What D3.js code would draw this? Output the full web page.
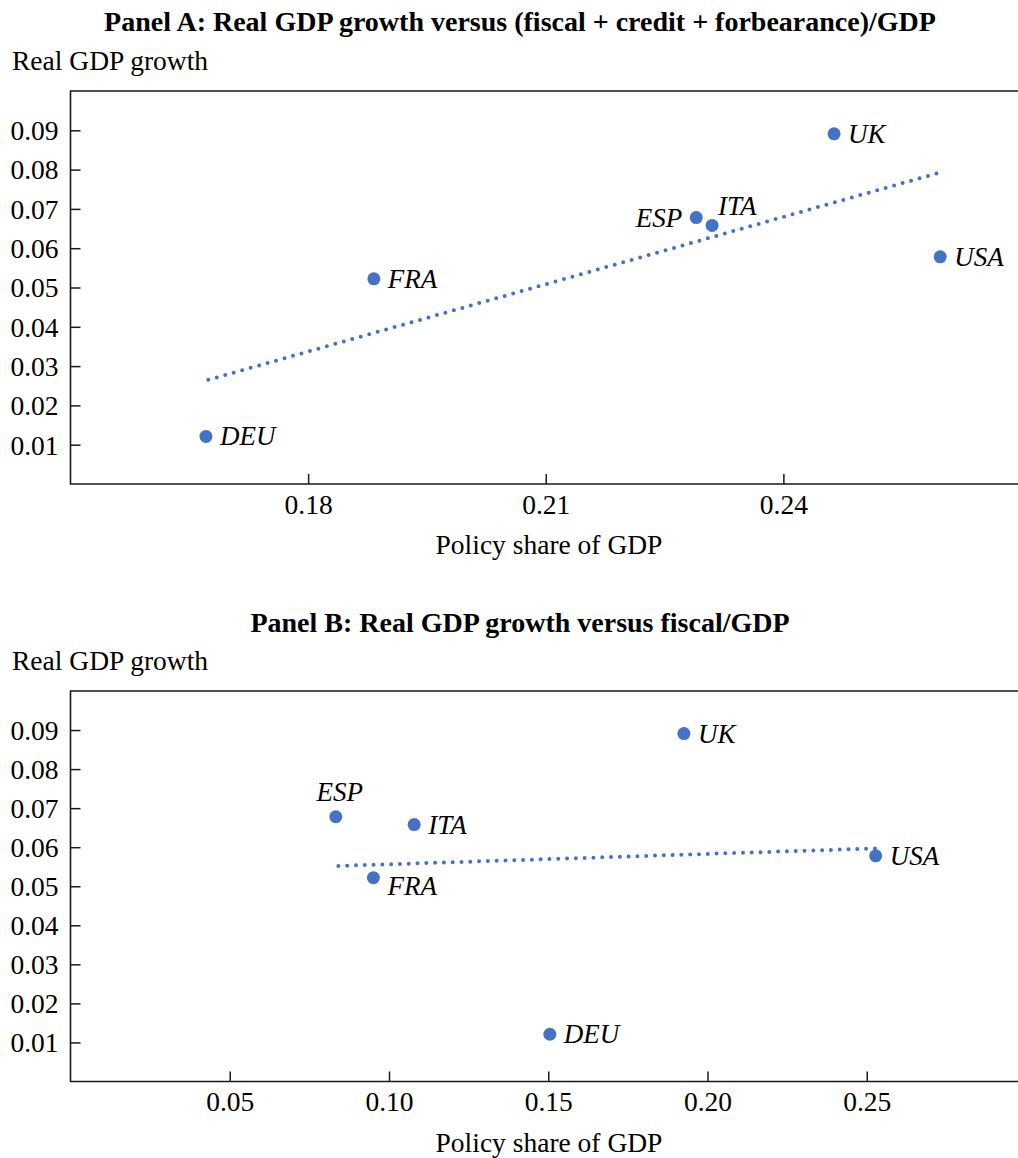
<!DOCTYPE html>
<html>
<head>
<meta charset="utf-8">
<script src="https://cdn.jsdelivr.net/npm/d3@7"></script>
<style>
  html, body { margin: 0; padding: 0; background: #fff; }
  svg { display: block; font-family: "Liberation Serif", "Times New Roman", serif; }
</style>
</head>
<body>
<script>
// Countries and real GDP growth (shared by both panels)
const countries = ["DEU", "FRA", "ESP", "ITA", "UK", "USA"];
const gdpGrowth = [0.0121, 0.0522, 0.0678, 0.0658, 0.0891, 0.0578];

// Policy support as a share of GDP
const policyShareTotal = [0.1671, 0.1883, 0.2290, 0.2310, 0.2464, 0.2598];   // fiscal + credit + forbearance
const policyShareFiscal = [0.1505, 0.0951, 0.0833, 0.1079, 0.1926, 0.2528];  // fiscal only

// Fitted trend lines (start and end)
const fitTotalX = [0.1674, 0.2595];
const fitTotalY = [0.0265, 0.0791];
const fitFiscalX = [0.0841, 0.2533];
const fitFiscalY = [0.0552, 0.0597];

// Tick values
const yTicks = [0.01, 0.02, 0.03, 0.04, 0.05, 0.06, 0.07, 0.08, 0.09];
const xTicksA = [0.18, 0.21, 0.24];
const xTicksB = [0.05, 0.10, 0.15, 0.20, 0.25];

const W = 1018, H = 1158;
const BLUE = "#4472c4";
const INK = "#1a1a1a";
const FS = 27.5;

const svg = d3.select("body").append("svg").attr("width", W).attr("height", H);

// Label placement per panel: [dx, dy, anchor]
const defaultPlace = [14, 9, "start"];
const placeA = { ESP: [-14, 9, "end"], ITA: [6, -10, "start"] };
const placeB = { ESP: [4, -16, "middle"], FRA: [14, 17, "start"] };

function panel(cfg) {
  const g = svg.append("g");
  const x = d3.scaleLinear().domain(cfg.xDomain).range(cfg.xRange);
  const y = d3.scaleLinear().domain([0, 0.10]).range([cfg.bottom, cfg.top]);

  // Title
  g.append("text")
    .attr("x", 520).attr("y", cfg.titleY)
    .attr("text-anchor", "middle")
    .attr("font-weight", "bold")
    .attr("font-size", 28)
    .text(cfg.title);

  // Y-axis title
  g.append("text")
    .attr("x", 12).attr("y", cfg.yTitleY)
    .attr("font-size", FS)
    .text("Real GDP growth");

  // X-axis title
  g.append("text")
    .attr("x", 549).attr("y", cfg.bottom + 70)
    .attr("text-anchor", "middle")
    .attr("font-size", FS)
    .text("Policy share of GDP");

  // Axes with inward ticks
  const yAxis = d3.axisLeft(y).tickValues(yTicks).tickSize(-10).tickPadding(12)
    .tickFormat(d3.format(".2f"));
  const xAxis = d3.axisBottom(x).tickValues(cfg.xTicks).tickSize(-10)
    .tickFormat(d3.format(".2f"));

  const gy = g.append("g").attr("transform", `translate(${cfg.xRange[0]},0)`).call(yAxis);
  const gx = g.append("g").attr("transform", `translate(0,${cfg.bottom})`).call(xAxis);
  [gx, gy].forEach(a => {
    a.select(".domain").remove();
    a.selectAll(".tick line").attr("stroke", INK).attr("stroke-width", 1.5);
    a.selectAll(".tick text").attr("fill", "#000").attr("font-size", FS)
      .attr("font-family", "Liberation Serif, serif");
  });
  gy.selectAll(".tick text").attr("dy", "0.34em");
  gx.selectAll(".tick text").attr("y", 29.5).attr("dy", 0);

  // Frame: left, bottom, top
  const x0 = cfg.xRange[0], x1 = cfg.xRange[1];
  g.append("path")
    .attr("d", `M${x1},${cfg.top}H${x0}V${cfg.bottom}H${x1}`)
    .attr("fill", "none").attr("stroke", INK).attr("stroke-width", 1.6);

  // Dotted trend line
  const fit = cfg.fitX.map((v, i) => [v, cfg.fitY[i]]);
  g.append("path")
    .datum(fit)
    .attr("d", d3.line().x(d => x(d[0])).y(d => y(d[1])))
    .attr("fill", "none")
    .attr("stroke", BLUE)
    .attr("stroke-width", 4)
    .attr("stroke-linecap", "round")
    .attr("stroke-dasharray", "0 8.8");

  // Points and labels
  const pts = countries.map((c, i) => ({ c, xv: cfg.xs[i], yv: gdpGrowth[i] }));
  g.selectAll("circle.pt").data(pts).join("circle")
    .attr("class", "pt")
    .attr("cx", d => x(d.xv)).attr("cy", d => y(d.yv))
    .attr("r", 6.5).attr("fill", BLUE);

  g.selectAll("text.lbl").data(pts).join("text")
    .attr("class", "lbl")
    .attr("x", d => x(d.xv) + (cfg.place[d.c] || defaultPlace)[0])
    .attr("y", d => y(d.yv) + (cfg.place[d.c] || defaultPlace)[1])
    .attr("text-anchor", d => (cfg.place[d.c] || defaultPlace)[2])
    .attr("font-style", "italic")
    .attr("font-size", 27)
    .text(d => d.c);
}

panel({
  title: "Panel A: Real GDP growth versus (fiscal + credit + forbearance)/GDP",
  titleY: 31, yTitleY: 70,
  top: 91, bottom: 484,
  xDomain: [0.15, 0.27], xRange: [70.5, 1021],
  xTicks: xTicksA, xs: policyShareTotal,
  fitX: fitTotalX, fitY: fitTotalY, place: placeA
});

panel({
  title: "Panel B: Real GDP growth versus fiscal/GDP",
  titleY: 632, yTitleY: 670,
  top: 691, bottom: 1081.5,
  xDomain: [0, 0.30], xRange: [70.5, 1026],
  xTicks: xTicksB, xs: policyShareFiscal,
  fitX: fitFiscalX, fitY: fitFiscalY, place: placeB
});
</script>
</body>
</html>
